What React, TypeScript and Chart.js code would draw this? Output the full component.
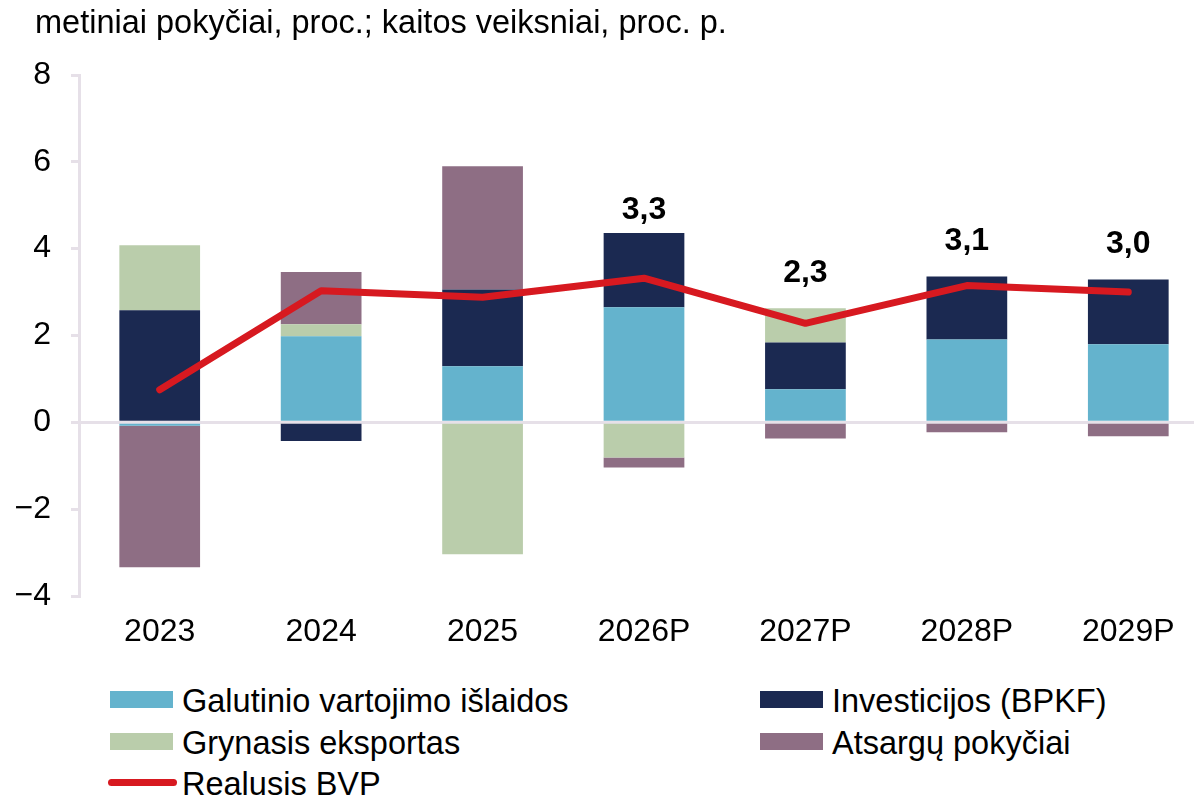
import React, { useEffect, useRef } from "react";
import { Chart, registerables } from "chart.js";

Chart.register(...registerables);

const categories = ["2023", "2024", "2025", "2026P", "2027P", "2028P", "2029P"];
const consumption = [-0.08, 1.98, 1.29, 2.65, 0.76, 1.91, 1.8];
const investment = [2.58, -0.43, 1.77, 1.71, 1.08, 1.45, 1.49];
const netExports = [1.5, 0.28, -3.04, -0.81, 0.79, 0, 0];
const inventories = [-3.26, 1.2, 2.84, -0.23, -0.37, -0.23, -0.32];
const realGdp = [0.75, 3.03, 2.88, 3.32, 2.28, 3.15, 3.0];
const gdpLabels = ["", "", "", "3,3", "2,3", "3,1", "3,0"];
const yTicks = [-4, -2, 0, 2, 4, 6, 8];

const title = "metiniai pokyčiai, proc.; kaitos veiksniai, proc. p.";
const seriesNames = [
  "Galutinio vartojimo išlaidos",
  "Investicijos (BPKF)",
  "Grynasis eksportas",
  "Atsargų pokyčiai",
  "Realusis BVP",
];

const COLORS = {
  consumption: "#64b3cd",
  investment: "#1b2951",
  netExports: "#bacdab",
  inventories: "#8e6e84",
  gdp: "#d71920",
  axis: "#e6e0e8",
};

const FONT = "'Liberation Sans', Arial, sans-serif";

const labelPlugin = {
  id: "gdpLabels",
  afterDraw(chart: any) {
    const ctx = chart.ctx;
    const barMetas = chart.getSortedVisibleDatasetMetas().filter((m: any) => m.type === "bar");
    const lineMeta = chart.getSortedVisibleDatasetMetas().find((m: any) => m.type === "line");
    ctx.save();
    ctx.font = `bold 32px ${FONT}`;
    ctx.fillStyle = "#000";
    ctx.textAlign = "center";
    ctx.textBaseline = "middle";
    gdpLabels.forEach((txt, i) => {
      if (!txt) return;
      let top = chart.scales.y.getPixelForValue(0);
      let x = 0;
      barMetas.forEach((m: any) => {
        const el = m.data[i];
        if (!el) return;
        x = el.x;
        top = Math.min(top, el.y, el.base);
      });
      let y = top - 35;
      if (lineMeta && lineMeta.data[i]) y = Math.max(y, lineMeta.data[i].y - 68);
      ctx.fillText(txt, x, y);
    });
    ctx.restore();
  },
};

export default function App() {
  const canvasRef = useRef<HTMLCanvasElement | null>(null);

  useEffect(() => {
    if (!canvasRef.current) return;
    const barCommon = { type: "bar" as const, order: 1, borderWidth: 0, barPercentage: 0.5, categoryPercentage: 1 };
    const chart = new Chart(canvasRef.current, {
      type: "bar",
      data: {
        labels: categories,
        datasets: [
          { ...barCommon, label: seriesNames[0], data: consumption, backgroundColor: COLORS.consumption },
          { ...barCommon, label: seriesNames[1], data: investment, backgroundColor: COLORS.investment },
          { ...barCommon, label: seriesNames[2], data: netExports, backgroundColor: COLORS.netExports },
          { ...barCommon, label: seriesNames[3], data: inventories, backgroundColor: COLORS.inventories },
          {
            type: "line" as const,
            order: 0,
            label: seriesNames[4],
            data: realGdp,
            borderColor: COLORS.gdp,
            backgroundColor: COLORS.gdp,
            borderWidth: 7,
            pointRadius: 0,
            borderCapStyle: "round",
            borderJoinStyle: "round",
            tension: 0,
            stack: "gdp",
          } as any,
        ],
      },
      options: {
        responsive: false,
        animation: false,
        layout: { padding: { top: 75, right: 6, left: 0, bottom: 0 } },
        plugins: { legend: { display: false }, tooltip: { enabled: false } },
        scales: {
          x: {
            stacked: true,
            grid: { display: false, drawTicks: false },
            border: { display: false },
            ticks: { color: "#000", font: { family: FONT, size: 32 }, padding: 17, maxRotation: 0 },
            afterFit: (s: any) => {
              s.height = 64;
            },
          },
          y: {
            stacked: true,
            min: -4,
            max: 8,
            z: 1,
            afterBuildTicks: (s: any) => {
              s.ticks = yTicks.map((v) => ({ value: v }));
            },
            ticks: {
              color: "#000",
              font: { family: FONT, size: 32 },
              padding: 20,
              callback: (v: any) => (Number(v) < 0 ? "\u2212" + Math.abs(Number(v)) : String(v)),
            },
            grid: {
              color: (c: any) => (c.tick && c.tick.value === 0 ? COLORS.axis : "rgba(0,0,0,0)"),
              tickColor: COLORS.axis,
              lineWidth: 3,
              tickLength: 8,
            },
            border: { display: true, color: COLORS.axis, width: 3 },
            afterFit: (s: any) => {
              s.width = 79;
            },
          },
        },
      },
      plugins: [labelPlugin],
    });
    return () => chart.destroy();
  }, []);

  const legendItems = [
    { name: seriesNames[0], color: COLORS.consumption, left: 110, row: 0, kind: "box" },
    { name: seriesNames[1], color: COLORS.investment, left: 760, row: 0, kind: "box" },
    { name: seriesNames[2], color: COLORS.netExports, left: 110, row: 1, kind: "box" },
    { name: seriesNames[3], color: COLORS.inventories, left: 760, row: 1, kind: "box" },
    { name: seriesNames[4], color: COLORS.gdp, left: 110, row: 2, kind: "line" },
  ];
  const rowCenters = [699.5, 741.5, 782.5];

  return (
    <div
      style={{
        position: "fixed",
        left: 0,
        top: 0,
        width: 1194,
        height: 799,
        overflow: "hidden",
        background: "#fff",
        fontFamily: FONT,
        color: "#000",
      }}
    >
      <canvas
        ref={canvasRef}
        width={1215}
        height={660}
        style={{ position: "absolute", left: 0, top: 0, width: 1215, height: 660 }}
      />
      <div
        style={{
          position: "absolute",
          left: 35,
          top: 6,
          fontSize: 32.5,
          lineHeight: "32px",
          whiteSpace: "nowrap",
        }}
      >
        {title}
      </div>
      {legendItems.map((it) => {
        const cy = rowCenters[it.row];
        return (
          <React.Fragment key={it.name}>
            {it.kind === "box" ? (
              <div
                style={{
                  position: "absolute",
                  left: it.left,
                  top: cy - 8.5,
                  width: 63,
                  height: 17,
                  background: it.color,
                }}
              />
            ) : (
              <div
                style={{
                  position: "absolute",
                  left: it.left - 2,
                  top: cy - 3.5,
                  width: 69,
                  height: 7,
                  borderRadius: 4,
                  background: it.color,
                }}
              />
            )}
            <div
              style={{
                position: "absolute",
                left: it.left + 72,
                top: cy - 16 + 1,
                fontSize: 32.5,
                lineHeight: "32px",
                whiteSpace: "nowrap",
              }}
            >
              {it.name}
            </div>
          </React.Fragment>
        );
      })}
    </div>
  );
}
